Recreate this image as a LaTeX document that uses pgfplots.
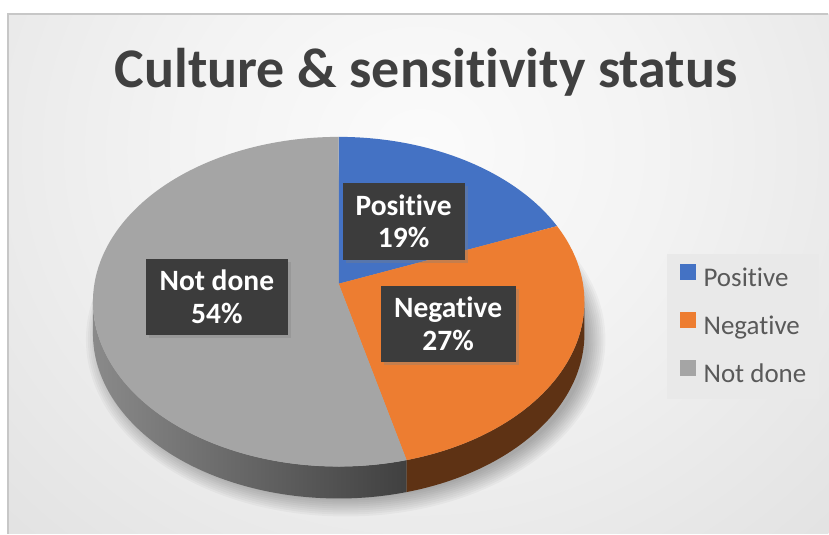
\documentclass[border=0pt]{standalone}
\usepackage{pgfplots}
\pgfplotsset{compat=1.18}
\usepackage{pgfplotstable}
\usepackage{fontspec}
\setmainfont{Carlito}[Ligatures=NoCommon]
\usetikzlibrary{shadows}
\definecolor{cPos}{HTML}{4472C4}
\definecolor{cNeg}{HTML}{ED7D31}
\definecolor{cNot}{HTML}{A5A5A5}
\definecolor{cNegSide}{HTML}{5E3214}
\definecolor{cNotSideL}{HTML}{8A8A8A}
\definecolor{cNotSideR}{HTML}{404040}
\definecolor{labelbg}{HTML}{3C3C3C}
\definecolor{titlec}{HTML}{404040}
\definecolor{legc}{HTML}{595959}
\definecolor{legfill}{HTML}{E9E9E9}
\definecolor{bgA}{HTML}{FBFBFB}
\definecolor{bgB}{HTML}{F3F3F3}
\definecolor{bgC}{HTML}{E2E2E2}
\definecolor{bgD}{HTML}{D3D3D3}
\definecolor{bgE}{HTML}{C5C5C5}
\pgfdeclareradialshading{bgshade}{\pgfpoint{0bp}{0bp}}{color(0bp)=(bgA); color(10bp)=(bgB); color(25bp)=(bgC); color(35bp)=(bgD); color(50bp)=(bgE)}

\pgfplotstableread[col sep=comma]{
label,value
Positive,19
Negative,27
Not done,54
}\piedata

% parametric angle on the projected ellipse for a true pie angle
\newcommand\paramangle[2]{%
  \pgfmathsetmacro\tmpa{atan2(sin(#1)+\pieK, sqrt(1-\pieK*\pieK)*cos(#1))}%
  \pgfmathsetmacro#2{\tmpa+360*round((#1-\tmpa)/360)}}

\tikzset{dlab/.style={fill=labelbg, text=white, font=\bfseries\fontsize{29.5}{33}\selectfont,
  align=center, inner sep=0pt, drop shadow={opacity=0.35, shadow xshift=3pt, shadow yshift=-3pt}}}

\begin{document}
\begin{tikzpicture}
\pgfplotstablegetelem{0}{value}\of\piedata \global\let\vA\pgfplotsretval
\pgfplotstablegetelem{1}{value}\of\piedata \global\let\vB\pgfplotsretval
\pgfplotstablegetelem{2}{value}\of\piedata \global\let\vC\pgfplotsretval
\gdef\pieK{0.109}
\gdef\pieS{244.5}
\gdef\pieT{163}
\gdef\Ax{339}
\gdef\Ay{250}
\gdef\dep{32}
\pgfmathsetmacro\rX{\pieS/sqrt(1-\pieK*\pieK)}\global\let\rX\rX
\pgfmathsetmacro\rY{\pieT/(1-\pieK*\pieK)}\global\let\rY\rY
\pgfmathsetmacro\cY{\Ay-\pieT*\pieK/(1-\pieK*\pieK)}\global\let\cY\cY
\global\let\cX\Ax
\pgfmathsetmacro\pA{90}
\pgfmathsetmacro\pB{\pA-3.6*\vA}
\pgfmathsetmacro\pC{\pB-3.6*\vB}
\pgfmathsetmacro\pD{\pC-3.6*\vC}
\paramangle{\pA}{\tA}\global\let\tA\tA
\paramangle{\pB}{\tB}\global\let\tB\tB
\paramangle{\pC}{\tC}\global\let\tC\tC
\paramangle{\pD}{\tD}\global\let\tD\tD
\pgfmathsetmacro\tAx{\cX+\rX*cos(\tA)}\global\let\tAx\tAx
\pgfmathsetmacro\tAy{\cY+\rY*sin(\tA)}\global\let\tAy\tAy
\pgfmathsetmacro\tBx{\cX+\rX*cos(\tB)}\global\let\tBx\tBx
\pgfmathsetmacro\tBy{\cY+\rY*sin(\tB)}\global\let\tBy\tBy
\pgfmathsetmacro\tCx{\cX+\rX*cos(\tC)}\global\let\tCx\tCx
\pgfmathsetmacro\tCy{\cY+\rY*sin(\tC)}\global\let\tCy\tCy
\begin{axis}[
  scale only axis, width=829pt, height=534pt,
  xmin=0, xmax=829, ymin=0, ymax=534,
  hide axis, clip=false,
  legend image code/.code={\path[#1] (0pt,1pt) rectangle (16pt,17pt);},
  legend style={at={(0.8046,0.5243)}, anchor=north west, fill=legfill, draw=none,
    font=\fontsize{27}{30}\selectfont, text=legc,
    inner xsep=13pt, inner ysep=10pt, row sep=19pt, column sep=8pt,
    nodes={inner sep=0pt, text height=18pt, text depth=6pt}},
  legend cell align=left,
]
% background
\fill[white] (0,0) rectangle (829,534);
\begin{scope}
\clip (8,0) rectangle (829,520);
\shade[shading=bgshade] (-180,-166) rectangle (1020,934);
\end{scope}
\draw[black!22, line width=1.5pt] (8,0) -- (8,520) -- (829,520);
% soft shadow
\pgfplotsinvokeforeach{0,...,9}{
  \fill[black, opacity=0.03] (\cX+7, \cY-\dep-6) ellipse [x radius=\rX+14-2*#1, y radius=\rY+12-2*#1];
}
% sides
\shade[left color=cNotSideL, right color=cNotSideR]
  (\cX-\rX, \cY) arc[start angle=-180, end angle=\tC, x radius=\rX, y radius=\rY]
  -- ++(0,-\dep) arc[start angle=\tC, end angle=-180, x radius=\rX, y radius=\rY] -- cycle;
\fill[cNegSide]
  (\tCx,\tCy) arc[start angle=\tC, end angle=0, x radius=\rX, y radius=\rY]
  -- ++(0,-\dep) arc[start angle=0, end angle=\tC, x radius=\rX, y radius=\rY] -- cycle;
% top surface
\fill[cPos] (\Ax,\Ay) -- (\tAx,\tAy) arc[start angle=\tA, end angle=\tB, x radius=\rX, y radius=\rY] -- cycle;
\fill[cNeg] (\Ax,\Ay) -- (\tBx,\tBy) arc[start angle=\tB, end angle=\tC, x radius=\rX, y radius=\rY] -- cycle;
\fill[cNot] (\Ax,\Ay) -- (\tCx,\tCy) arc[start angle=\tC, end angle=\tD, x radius=\rX, y radius=\rY] -- cycle;
% data labels
\node[dlab, minimum width=122pt, minimum height=77pt] at (404,312.5) {Positive\\\vA\%};
\node[dlab, minimum width=135pt, minimum height=76pt] at (448.5,210) {Negative\\\vB\%};
\node[dlab, minimum width=142pt, minimum height=76pt] at (217,237) {Not done\\\vC\%};
% title
\node[anchor=base, font=\bfseries\fontsize{56}{60}\selectfont, text=titlec] at (426.5,446) {Culture \& sensitivity status};
% legend
\addlegendimage{fill=cPos, draw=none}
\addlegendentry{Positive}
\addlegendimage{fill=cNeg, draw=none}
\addlegendentry{Negative}
\addlegendimage{fill=cNot, draw=none}
\addlegendentry{Not done}
\end{axis}
\end{tikzpicture}
\end{document}
